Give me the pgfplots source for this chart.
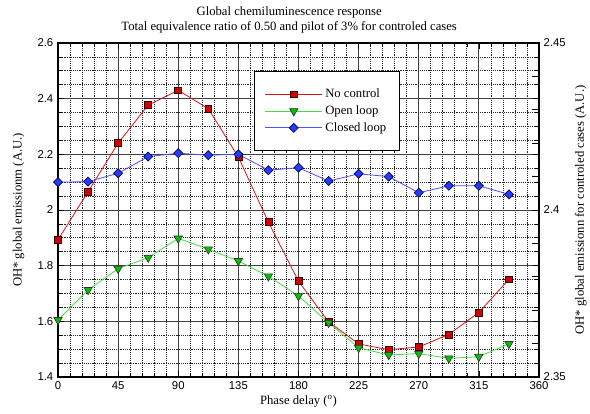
\documentclass[border=0pt]{standalone}
\usepackage{fontspec}
\setmainfont{Liberation Serif}
\newfontfamily\arial{Liberation Sans}
\usepackage{pgfplots}
\pgfplotsset{compat=1.18}

\definecolor{nocfill}{RGB}{210,0,0}
\definecolor{nocline}{RGB}{215,20,20}
\definecolor{olfill}{RGB}{0,195,0}
\definecolor{olline}{RGB}{70,220,70}
\definecolor{clfill}{RGB}{35,60,255}
\definecolor{clline}{RGB}{80,80,255}

\pgfplotstableread{
x     noc    ol     cl
0     1.893  1.605  2.100
22.5  2.066  1.713  2.102
45    2.240  1.789  2.132
67.5  2.377  1.829  2.192
90    2.430  1.898  2.204
112.5 2.364  1.859  2.197
135   2.190  1.817  2.200
157.5 1.956  1.762  2.143
180   1.744  1.691  2.152
202.5 1.598  1.595  2.104
225   1.519  1.505  2.130
247.5 1.498  1.479  2.120
270   1.508  1.484  2.062
292.5 1.553  1.467  2.087
315   1.632  1.473  2.087
337.5 1.751  1.519  2.056
}\datatable

\begin{document}
\begin{tikzpicture}
\begin{axis}[
  scale only axis, width=360.75pt, height=250.5pt,
  xmin=0, xmax=360, ymin=1.4, ymax=2.6,
  xtick={0,45,...,360}, minor x tick num=4,
  ytick={1.4,1.6,1.8,2,2.2,2.4,2.6}, minor y tick num=3,
  grid=both,
  major grid style={black!75, line width=0.6pt},
  minor grid style={black!85, densely dotted, line width=0.6pt},
  axis line style={line width=1.4pt},
  tick style={black, line width=0.5pt},
  ticklabel style={font=\arial\fontsize{8.5}{10}\selectfont},
  /pgf/number format/assume math mode=true,
  xlabel={Phase delay (\textsuperscript{o})},
  ylabel={OH* global emissionm (A.U.)},
  label style={font=\fontsize{9.5}{11}\selectfont},
  xlabel style={yshift=3pt},
  ylabel style={yshift=3pt},
  title={Global chemiluminescence response\\Total equivalence ratio of 0.50 and pilot of 3\% for controled cases},
  title style={align=center, font=\fontsize{9.5}{11.2}\selectfont, xshift=-7pt, yshift=-2pt},
  legend style={at={(0.407,0.916)}, anchor=north west, draw=black, line width=0.8pt,
    fill=white, font=\fontsize{9.5}{11}\selectfont, inner xsep=8pt, inner ysep=11pt,
    row sep=0.5pt},
  legend cell align=left,
  legend image code/.code={\draw[#1, mark repeat=2, mark phase=2, line width=0.6pt]
    plot coordinates {(0cm,0cm) (0.75cm,0cm) (1.5cm,0cm)};},
]
\coordinate (SW) at (rel axis cs:0,0);
\coordinate (NE) at (rel axis cs:1,1);
\addplot[nocline, line width=0.6pt, mark=square*, mark size=2.6pt,
  mark options={fill=nocfill, draw=black!80!red, line width=0.5pt}]
  table[x=x, y=noc] {\datatable};
\addlegendentry{No control}
\addplot[olline, line width=0.6pt, mark=triangle*, mark size=3.6pt,
  mark options={rotate=180, fill=olfill, draw=black!80, line width=0.5pt}]
  table[x=x, y=ol] {\datatable};
\addlegendentry{Open loop}
\addplot[clline, line width=0.6pt, mark=square*, mark size=2.4pt,
  mark options={rotate=45, fill=clfill, draw=black!70!blue, line width=0.5pt}]
  table[x=x, y=cl] {\datatable};
\addlegendentry{Closed loop}
\end{axis}
\begin{axis}[
  scale only axis, width=360.75pt, height=250.5pt,
  xmin=0, xmax=360, ymin=2.35, ymax=2.45,
  axis x line=none, axis y line*=right,
  axis line style={line width=1.4pt},
  ytick={2.35,2.4,2.45}, minor y tick num=4,
  tick style={black, line width=0.5pt},
  major tick length=5pt, minor tick length=5pt,
  ticklabel style={font=\arial\fontsize{8.5}{10}\selectfont},
  /pgf/number format/assume math mode=true,
  ylabel={OH* global emissionn for controled cases (A.U.)},
  label style={font=\fontsize{9.5}{11}\selectfont},
]
\end{axis}
\pgfresetboundingbox
\path ([shift={(-43.5pt,-27pt)}]SW) rectangle ([shift={(38.25pt,32.25pt)}]NE);
\end{tikzpicture}
\end{document}
